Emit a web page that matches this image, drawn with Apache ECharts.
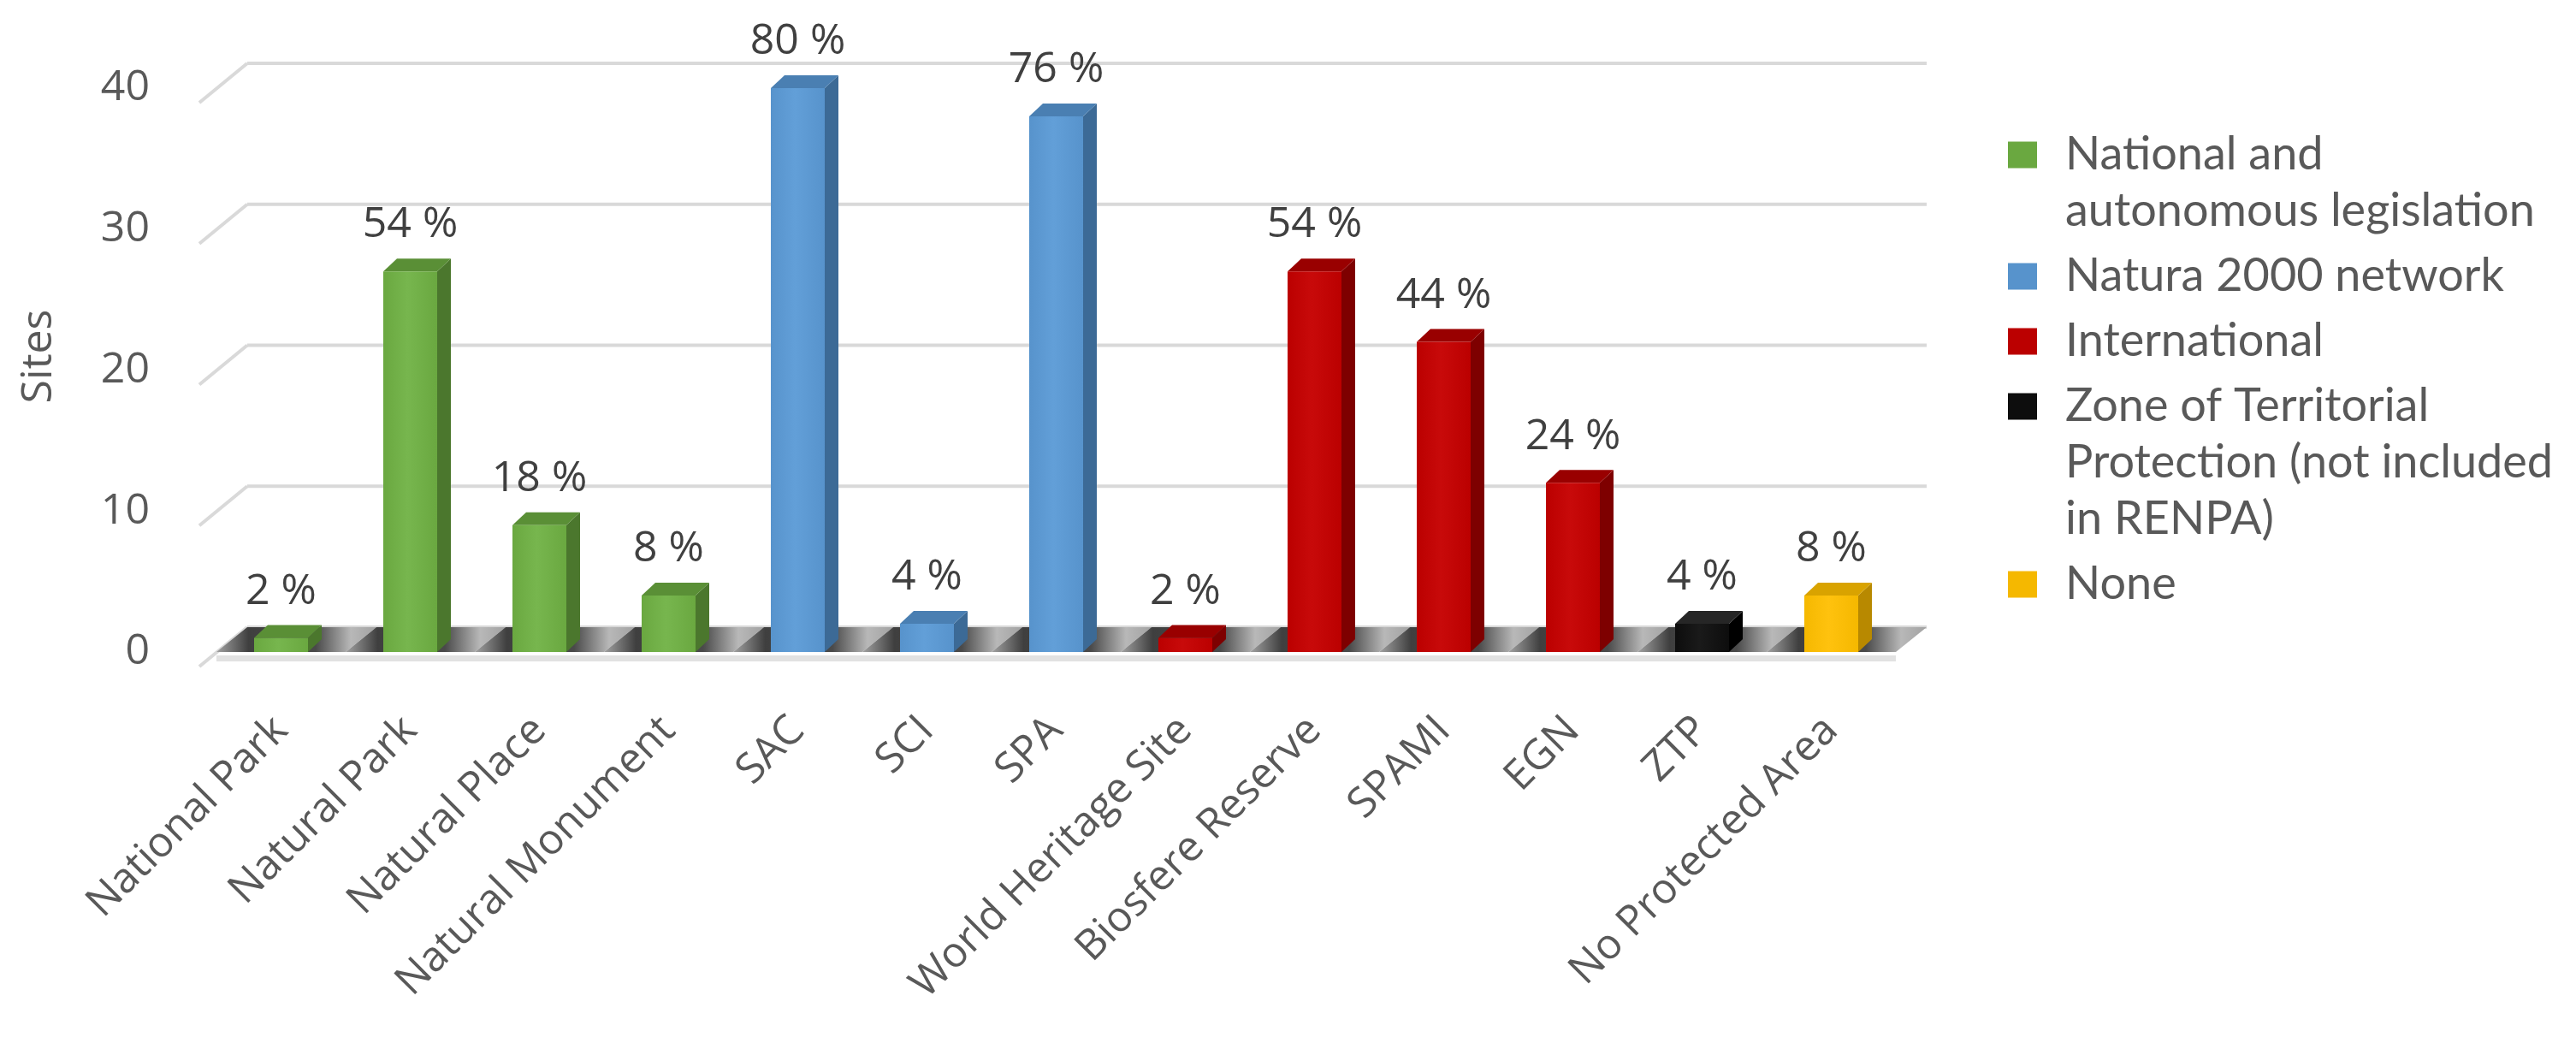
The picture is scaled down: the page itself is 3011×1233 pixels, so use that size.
<!DOCTYPE html>
<html>
<head>
<meta charset="utf-8">
<script src="https://cdn.jsdelivr.net/npm/echarts@6/dist/echarts.min.js"></script>
<style>
html, body { margin: 0; padding: 0; background: #fff; }
#main { width: 3011px; height: 1233px; }
</style>
</head>
<body>
<div id="main"></div>
<script>
var categories = ['National Park', 'Natural Park', 'Natural Place', 'Natural Monument', 'SAC', 'SCI', 'SPA',
    'World Heritage Site', 'Biosfere Reserve', 'SPAMI', 'EGN', 'ZTP', 'No Protected Area'];
var sites = [1, 27, 9, 4, 40, 2, 38, 1, 27, 22, 12, 2, 4];
var percents = [2, 54, 18, 8, 80, 4, 76, 2, 54, 44, 24, 4, 8];
var groupOf = [0, 0, 0, 0, 1, 1, 1, 2, 2, 2, 2, 3, 4];
var groupNames = ['National and\nautonomous legislation', 'Natura 2000 network', 'International',
    'Zone of Territorial\nProtection (not included\nin RENPA)', 'None'];
var yTicks = [0, 10, 20, 30, 40];

// front / side / top / front highlight for each group
var shades = [
    ['#6aa840', '#4b772d', '#5a8f36', '#77b64e'],
    ['#5793cc', '#3c6a96', '#4a7fb2', '#629fd8'],
    ['#bb0000', '#7e0000', '#990000', '#c80a0a'],
    ['#0d0d0d', '#000000', '#262626', '#1a1a1a'],
    ['#f5b800', '#b88900', '#d9a300', '#ffc20e']
];

var chartDom = document.getElementById('main');
var myChart = echarts.init(chartDom);

var DX = 36, DY = -29;            // depth of the floor / back wall
var BW = 63, BDX = 16, BDY = 15;  // bar front width and depth

function bandWidth(api) {
    return api.size([1, 0])[0];
}

function renderWall(params, api) {
    var v = api.value(1);
    var bw = bandWidth(api);
    var p0 = api.coord([0, v]);
    var pEnd = api.coord([categories.length - 1, v]);
    var x0 = p0[0] - bw / 2, x1 = pEnd[0] + bw / 2;
    var style = { stroke: '#d9d9d9', lineWidth: 4 };
    return {
        type: 'group',
        children: [
            { type: 'line', shape: { x1: x0 + DX, y1: p0[1] + DY, x2: x1 + DX, y2: p0[1] + DY }, style: style },
            { type: 'line', shape: { x1: x0 - 20, y1: p0[1] + 17, x2: x0 + DX, y2: p0[1] + DY }, style: style }
        ]
    };
}

function renderFloor(params, api) {
    var i = api.value(0);
    var bw = bandWidth(api);
    var p = api.coord([i, 0]);
    var x0 = p[0] - bw / 2, x1 = p[0] + bw / 2, y = p[1];
    return {
        type: 'group',
        children: [
            {
                type: 'polygon',
                shape: { points: [[x0, y], [x1, y], [x1 + DX, y + DY], [x0 + DX, y + DY]] },
                style: {
                    fill: new echarts.graphic.LinearGradient(0, 0, 1, 0, [
                        { offset: 0, color: '#a2a2a2' },
                        { offset: 0.2, color: '#3f3f3f' },
                        { offset: 0.62, color: '#4a4a4a' },
                        { offset: 0.84, color: '#b8b8b8' },
                        { offset: 1, color: '#a2a2a2' }
                    ])
                }
            },
            { type: 'rect', shape: { x: x0, y: y + 4, width: bw, height: 7 }, style: { fill: '#e2e2e2' } }
        ]
    };
}

function makeBarRenderer(g) {
    return function (params, api) {
        var i = api.value(0), v = api.value(1);
        var base = api.coord([i, 0]);
        var top = api.coord([i, v]);
        var l = base[0] - BW / 2, r = base[0] + BW / 2;
        var c = shades[g];
        return {
            type: 'group',
            children: [
                {
                    type: 'polygon',
                    shape: { points: [[r, base[1]], [r + BDX, base[1] - BDY], [r + BDX, top[1] - BDY], [r, top[1]]] },
                    style: { fill: c[1] }
                },
                {
                    type: 'polygon',
                    shape: { points: [[l, top[1]], [l + BDX, top[1] - BDY], [r + BDX, top[1] - BDY], [r, top[1]]] },
                    style: { fill: c[2] }
                },
                {
                    type: 'rect',
                    shape: { x: l, y: top[1], width: BW, height: base[1] - top[1] },
                    style: {
                        fill: new echarts.graphic.LinearGradient(0, 0, 1, 0, [
                            { offset: 0, color: c[0] },
                            { offset: 0.45, color: c[3] },
                            { offset: 1, color: c[0] }
                        ])
                    }
                },
                {
                    type: 'text',
                    x: base[0],
                    y: top[1] - BDY - 14,
                    style: {
                        text: api.value(2) + ' %',
                        fill: '#404040',
                        font: '50px "Open Sans"',
                        align: 'center',
                        verticalAlign: 'bottom'
                    }
                }
            ]
        };
    };
}

var series = [
    {
        type: 'custom',
        name: 'wall',
        z: 1,
        silent: true,
        renderItem: renderWall,
        data: yTicks.map(function (t) { return [0, t]; })
    },
    {
        type: 'custom',
        name: 'floor',
        z: 2,
        silent: true,
        renderItem: renderFloor,
        data: categories.map(function (c, i) { return [i, 0]; })
    }
];

var legendRich = {
    t: { fontFamily: 'Lato', fontSize: 54, lineHeight: 66, color: '#595959' },
    gap: { width: 33, height: 30, lineHeight: 66 },
    pad: { width: 67, height: 30, lineHeight: 66 }
};

groupNames.forEach(function (name, g) {
    var data = [];
    categories.forEach(function (c, i) {
        if (groupOf[i] === g) data.push([i, sites[i], percents[i]]);
    });
    legendRich['sq' + g] = { width: 34, height: 31, lineHeight: 66, backgroundColor: shades[g][0] };
    series.push({
        type: 'custom',
        name: name,
        z: 3,
        itemStyle: { color: shades[g][0] },
        renderItem: makeBarRenderer(g),
        encode: { x: 0, y: 1 },
        data: data
    });
});

option = {
    backgroundColor: '#ffffff',
    animation: false,
    grid: { left: 253, right: 795, top: 103, bottom: 471 },
    legend: {
        data: groupNames,
        orient: 'vertical',
        left: 2336,
        top: 149,
        icon: 'rect',
        itemWidth: 1,
        itemHeight: 1,
        itemGap: 22,
        itemStyle: { opacity: 0 },
        selectedMode: false,
        formatter: function (name) {
            var g = groupNames.indexOf(name);
            return name.split('\n').map(function (line, k) {
                return (k === 0 ? '{sq' + g + '|}{gap|}' : '{pad|}') + '{t|' + line + '}';
            }).join('\n');
        },
        textStyle: { rich: legendRich }
    },
    xAxis: {
        type: 'category',
        data: categories,
        axisLine: { show: false },
        axisTick: { show: false },
        splitLine: { show: false },
        axisLabel: {
            interval: 0,
            rotate: 45,
            margin: 84,
            fontFamily: 'Open Sans',
            fontSize: 49,
            color: '#595959'
        }
    },
    yAxis: {
        type: 'value',
        min: 0,
        max: 40,
        interval: 10,
        name: 'Sites',
        nameLocation: 'middle',
        nameRotate: 90,
        nameGap: 182,
        nameTextStyle: { fontFamily: 'Open Sans', fontSize: 50, color: '#595959', padding: [0, 0, 0, 32] },
        axisLine: { show: false },
        axisTick: { show: false },
        splitLine: { show: false },
        axisLabel: {
            margin: 78,
            padding: [36, 0, 0, 0],
            fontFamily: 'Open Sans',
            fontSize: 50,
            color: '#595959'
        }
    },
    series: series
};

option && myChart.setOption(option);
</script>
</body>
</html>
